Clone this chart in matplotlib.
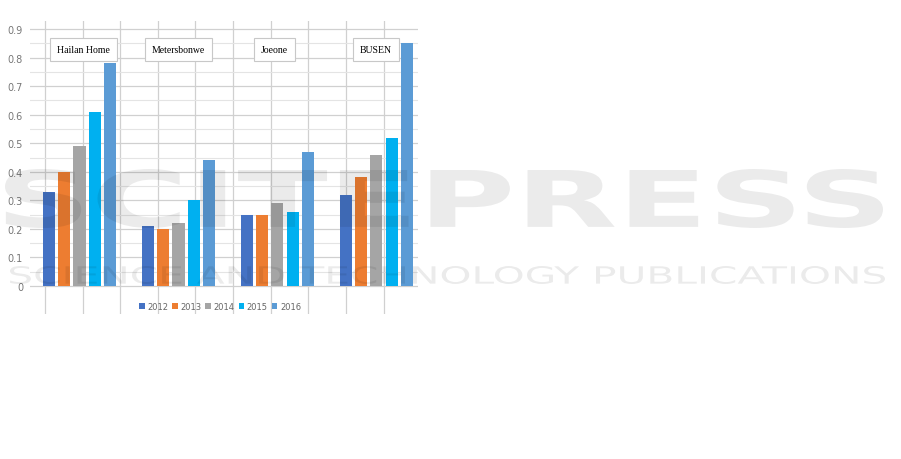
import numpy as np
import matplotlib.pyplot as plt
from matplotlib.textpath import TextPath
from matplotlib.patches import PathPatch
from matplotlib.font_manager import FontProperties
from matplotlib.transforms import Affine2D

# brand values per year
brands = ["Hailan Home", "Metersbonwe", "Joeone", "BUSEN"]
years = ["2012", "2013", "2014", "2015", "2016"]
v2012 = [0.33, 0.21, 0.25, 0.32]
v2013 = [0.40, 0.20, 0.25, 0.38]
v2014 = [0.49, 0.22, 0.29, 0.46]
v2015 = [0.61, 0.30, 0.26, 0.52]
v2016 = [0.78, 0.44, 0.47, 0.85]
yticks = [0, 0.1, 0.2, 0.3, 0.4, 0.5, 0.6, 0.7, 0.8, 0.9]

colors = ["#4472C4", "#ED7D31", "#A5A5A5", "#00B0F0", "#5B9BD5"]
series = [v2012, v2013, v2014, v2015, v2016]
# left edge of each name box, relative to its group centre
box_off = [-0.23, -0.27, -0.17, -0.17]

W, H = 901, 460
fig = plt.figure(figsize=(W / 100, H / 100), dpi=100)

ax = fig.add_axes([30 / W, 1 - 315 / H, 388 / W, 293 / H])
ax.patch.set_alpha(0)

x = np.arange(len(brands))
step = 0.153
width = 0.122
for i, (vals, c, yr) in enumerate(zip(series, colors, years)):
    ax.bar(x + (i - 2) * step, vals, width, color=c, label=yr, zorder=3)

ax.set_xlim(-0.5, 3.42)
ax.set_ylim(-0.098, 0.928)

ax.set_yticks(yticks)
ax.set_yticklabels(["0" if t == 0 else f"{t:.1f}" for t in yticks])
ax.set_yticks(np.arange(0.05, 0.9, 0.1), minor=True)
ax.set_xticks(np.arange(-0.348, 3.42, 0.38))
ax.set_xticklabels([])
ax.tick_params(length=0, labelsize=7, labelcolor="#777777", pad=5)
ax.tick_params(which="minor", length=0)
ax.grid(True, which="major", color="#d0d0d0", lw=0.9, zorder=0)
ax.grid(True, which="minor", axis="y", color="#e4e4e4", lw=0.8, zorder=0)
for s in ax.spines.values():
    s.set_visible(False)

# brand name boxes
for i, b in enumerate(brands):
    ax.text(i + box_off[i], 0.828, b, fontsize=7, family="Liberation Serif",
            ha="left", va="center", zorder=4,
            bbox=dict(boxstyle="square,pad=0.72", fc="white", ec="#c8c8c8", lw=0.8))

ax.legend(loc="center", bbox_to_anchor=(0.49, 0.027), ncol=5, frameon=False,
          fontsize=6, labelcolor="#666666", handlelength=0.7, handleheight=0.7,
          handletextpad=0.3, columnspacing=0.45)


def watermark(text, x0, x1, ytop, ybot, bold):
    # stretch the glyph outline into a pixel box so it is as wide as the original
    fp = FontProperties(family="DejaVu Sans", weight="bold" if bold else "normal")
    tp = TextPath((0, 0), text, size=1, prop=fp)
    bb = tp.get_extents()
    sx = (x1 - x0) / W / bb.width
    sy = (ybot - ytop) / H / bb.height
    tr = (Affine2D().translate(-bb.x0, -bb.y0).scale(sx, sy)
          .translate(x0 / W, 1 - ybot / H) + fig.transFigure)
    fig.add_artist(PathPatch(tp, transform=tr, fc="black", ec="none",
                             alpha=0.08, zorder=10))


watermark("SCITEPRESS", 5, 883, 170, 229, True)
watermark("SCIENCE AND TECHNOLOGY PUBLICATIONS", 10, 885, 267, 285, False)

fig.savefig("out.png", dpi=100)
